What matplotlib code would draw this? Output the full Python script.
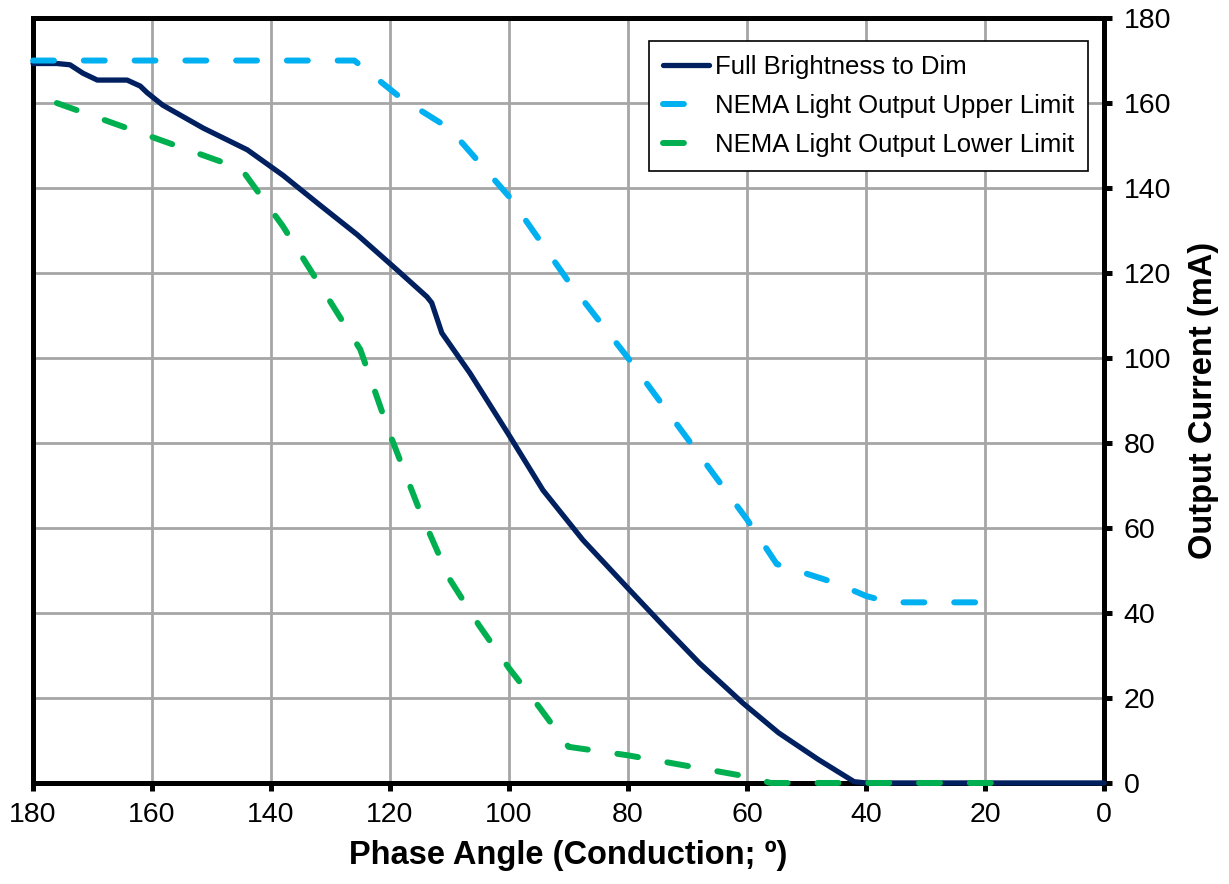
import matplotlib.pyplot as plt

plt.rcParams['font.family'] = ['Liberation Sans', 'DejaVu Sans']

# Full brightness to dim curve (phase angle in degrees, output current in mA)
full_x = [180, 176, 173.8, 171.6, 169.2, 164.2, 162, 160.8, 158.2, 151.4, 144, 138,
          131.8, 125.5, 118.8, 113.8, 113, 111.3, 106.6, 99.8, 94.3, 87.6, 80.2, 74,
          68, 60.7, 54.7, 48, 42, 40, 0]
full_y = [169.3, 169.3, 169, 167, 165.4, 165.4, 164, 162.4, 159.5, 154.1, 149, 143,
          136, 129, 120.7, 114.4, 113, 105.9, 96.5, 81.4, 68.9, 57.2, 46.1, 36.9,
          28.2, 18.8, 11.8, 5.5, 0.3, 0, 0]

# NEMA upper limit
upper_x = [180, 126, 118, 110, 100, 90, 80, 70, 60, 55, 45, 40, 36, 18]
upper_y = [170, 170, 161, 154, 138, 118, 100, 81, 62, 51.5, 47, 44, 42.5, 42.5]

# NEMA lower limit
lower_x = [176, 145, 138, 125, 120, 115, 110, 105, 100, 95, 90, 80, 70, 60, 56, 18]
lower_y = [160, 144.5, 131, 102, 82, 64, 48, 37, 27, 18, 8.5, 6.5, 4, 1.5, 0, 0]

xticks = [180, 160, 140, 120, 100, 80, 60, 40, 20, 0]
yticks = [0, 20, 40, 60, 80, 100, 120, 140, 160, 180]

fig = plt.figure(figsize=(12.29, 8.84), dpi=100)
ax = fig.add_axes([0.0269, 0.1143, 0.8714, 0.8653])

ax.plot(full_x, full_y, color='#002060', lw=3.8, solid_capstyle='round',
        label='Full Brightness to Dim', clip_on=False, zorder=5)
ax.plot(upper_x, upper_y, color='#00B0F0', lw=4.3, dashes=(3.5, 5),
        dash_capstyle='round', label='NEMA Light Output Upper Limit', clip_on=False, zorder=5)
ax.plot(lower_x, lower_y, color='#00B050', lw=4.3, dashes=(3.5, 5),
        dash_capstyle='round', label='NEMA Light Output Lower Limit', clip_on=False, zorder=5)

ax.set_xlim(180, 0)
ax.set_ylim(0, 180)
ax.set_xticks(xticks)
ax.set_yticks(yticks)

ax.grid(True, color='#A6A6A6', lw=2)
ax.set_axisbelow(True)

for s in ax.spines.values():
    s.set_linewidth(3.6)
    s.set_color('black')

ax.yaxis.tick_right()
ax.yaxis.set_label_position('right')
ax.tick_params(axis='both', direction='out', length=6, width=3.6, labelsize=20.5)
ax.tick_params(axis='x', pad=8)
ax.tick_params(axis='y', pad=8)

ax.set_xlabel('Phase Angle (Conduction; º)', fontsize=23.5, fontweight='bold', labelpad=8)
ax.set_ylabel('Output Current (mA)', fontsize=23.5, fontweight='bold', labelpad=12)

leg = ax.legend(loc='upper right', bbox_to_anchor=(0.985, 0.97), fontsize=18.5,
                fancybox=False, framealpha=1, edgecolor='black', handlelength=1.8,
                handletextpad=0.2, labelspacing=0.58, borderpad=0.55, borderaxespad=0)
leg.get_frame().set_linewidth(1.2)

fig.savefig('out.png', dpi=100)
